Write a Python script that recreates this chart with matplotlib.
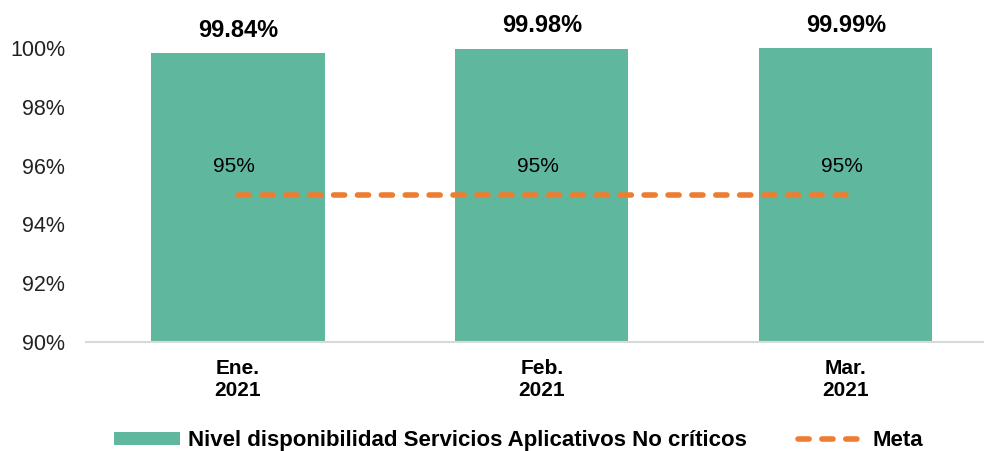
import matplotlib.pyplot as plt
from matplotlib.ticker import FuncFormatter

plt.rcParams['font.family'] = ['Liberation Sans', 'DejaVu Sans']

categories = ['Ene.\n2021', 'Feb.\n2021', 'Mar.\n2021']
disponibilidad = [99.84, 99.98, 99.99]
meta = [95, 95, 95]
bar_labels = ['99.84%', '99.98%', '99.99%']
meta_labels = ['95%', '95%', '95%']

bar_color = '#5FB89E'
meta_color = '#ED7D31'

fig = plt.figure(figsize=(9.84, 4.51), dpi=100)
ax = fig.add_axes([86 / 984, 1 - 342 / 451, 1 - 86 / 984, (342 - 48) / 451])

x = list(range(len(categories)))
bars = ax.bar(x, [v - 90 for v in disponibilidad], bottom=90, width=0.57,
              color=bar_color,
              label='Nivel disponibilidad Servicios Aplicativos No críticos')
line, = ax.plot(x, meta, color=meta_color, linewidth=4, dashes=(2, 2.3),
                dash_capstyle='round', label='Meta')

for xi, v, lab in zip(x, disponibilidad, bar_labels):
    ax.annotate(lab, (xi, v), xytext=(0, 8), textcoords='offset points',
                ha='center', va='bottom', fontsize=17, fontweight='bold',
                annotation_clip=False)
for xi, v, lab in zip(x, meta, meta_labels):
    ax.annotate(lab, (xi, v), xytext=(-3, 14), textcoords='offset points',
                ha='center', va='bottom', fontsize=15)

ax.set_ylim(90, 100)
ax.set_xlim(-0.5, 2.455)
ax.set_yticks([90, 92, 94, 96, 98, 100])
ax.yaxis.set_major_formatter(FuncFormatter(lambda v, p: f'{v:.0f}%'))
ax.set_xticks(x)
ax.set_xticklabels(categories, fontsize=15, fontweight='bold')
ax.tick_params(axis='y', labelsize=15.5, length=0, pad=15)
ax.tick_params(axis='x', length=0, pad=12)
for lab in ax.get_yticklabels():
    lab.set_color('#222222')

for s in ['top', 'right', 'left']:
    ax.spines[s].set_visible(False)
ax.spines['bottom'].set_color('#D9D9D9')
ax.spines['bottom'].set_linewidth(1.5)

fig.legend(handles=[bars, line], loc='lower center', bbox_to_anchor=(0.527, -0.045),
           ncol=2, frameon=False, prop={'size': 16, 'weight': 'bold'},
           handlelength=3.0, handleheight=0.5, columnspacing=2.3, handletextpad=0.35)

fig.savefig('out.png', dpi=100)
